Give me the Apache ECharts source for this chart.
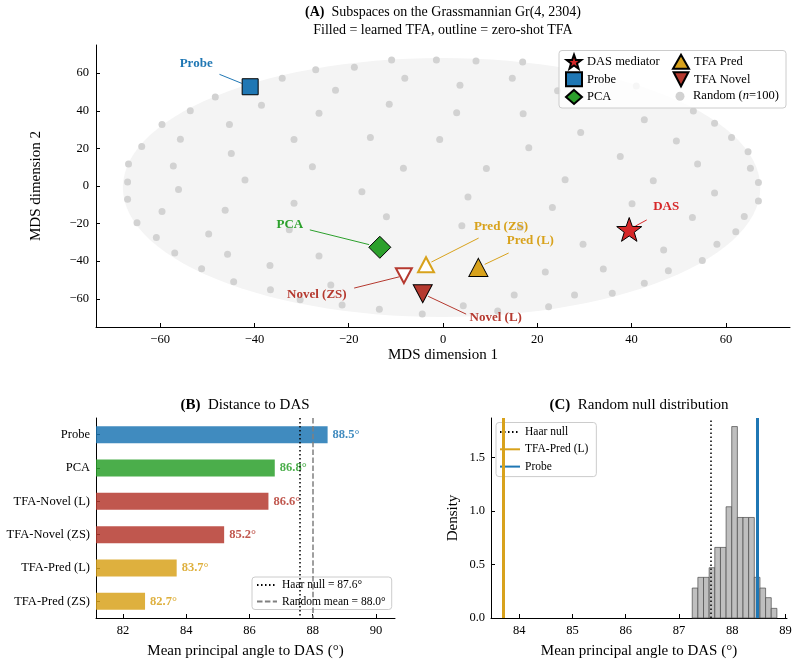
<!DOCTYPE html>
<html>
<head>
<meta charset="utf-8">
<title>Subspaces on the Grassmannian</title>
<script src="https://cdn.jsdelivr.net/npm/echarts@6/dist/echarts.min.js"></script>
<style>
  html, body { margin: 0; padding: 0; background: #fff; }
  #chart { width: 798px; height: 671px; }
</style>
</head>
<body>
<div id="chart"></div>
<script>
// ---------- panel A: MDS map ----------
const dasPoint = [39.5, -23.1];
const probePoint = [-40.9, 52.8];
const pcaPoint = [-13.4, -32.6];
const predLearned = [7.5, -43.3];
const predZeroShot = [-3.6, -41.9];
const novelLearned = [-4.3, -57.3];
const novelZeroShot = [-8.3, -47.7];

const randomX = [-34.1, -27.0, -18.8, -10.9, -1.4, -8.1, -22.8, -48.3, -38.5, -11.4,
  -53.6, -26.3, -59.6, -45.3, -55.7, -31.6, -15.4, -0.7, -63.9, -44.9,
  -66.7, -57.2, -27.7, -8.4, -66.9, -42.0, -56.1, -17.2, -66.9, -31.6,
  -59.6, -46.2, -12.0, -64.9, -32.6, -49.7, -60.8, -56.9, -45.7, -26.3,
  -51.2, -36.7, -44.4, -36.6, -23.8, -30.3, -21.4, -13.5, -4.4, 7.0,
  16.9, 3.6, 14.7, 24.3, 2.9, 17.0, 42.7, 53.1, 57.6, 29.2,
  49.5, 61.2, 18.2, 37.6, 64.7, 9.2, 54.0, 65.2, 25.9, 44.6,
  66.9, 5.3, 40.1, 57.6, 66.9, 23.2, 52.9, 4.0, 16.4, 62.1,
  29.7, 46.8, 55.0, 21.7, 34.0, 47.8, 42.7, 15.1, 27.9, 35.9,
  4.3, 11.6, 22.4, 41.0, 63.9, 58.1];
const randomY = [57.3, 61.9, 63.1, 67.0, 67.0, 57.3, 50.9, 47.4, 43.0, 43.5,
  40.0, 38.7, 32.7, 32.7, 24.9, 24.7, 25.8, 24.7, 21.0, 17.3,
  11.7, 10.6, 10.2, 9.5, 2.1, 3.2, -1.8, -3.0, -7.1, -9.2,
  -13.6, -12.9, -16.3, -19.5, -23.3, -25.5, -27.4, -35.6, -36.3, -37.3,
  -44.0, -42.3, -50.9, -55.2, -52.7, -60.5, -63.3, -65.5, -68.1, 66.5,
  65.9, 53.6, 57.3, 50.6, 39.0, 38.4, 35.2, 39.9, 33.4, 28.4,
  24.0, 25.8, 20.3, 15.7, 18.2, 9.3, 11.7, 9.5, 3.3, 2.8,
  1.8, -5.8, -9.4, -3.7, -8.0, -11.5, -16.8, -21.2, -22.1, -24.4,
  -31.0, -34.0, -39.6, -45.8, -44.2, -45.1, -51.7, -58.0, -58.0, -57.0,
  -63.7, -66.5, -64.2, 53.2, -16.2, -31.0];

// cloud outline: centre x, centre y, radius x, radius y
const cloudEllipse = [-0.3, -0.8, 67.6, 68.9];

// ---------- panel B: distance to DAS ----------
const bCategories = ['Probe', 'PCA', 'TFA-Novel (L)', 'TFA-Novel (ZS)', 'TFA-Pred (L)', 'TFA-Pred (ZS)'];
const bAngles = [88.47, 86.8, 86.6, 85.2, 83.7, 82.7];
const haarNull = 87.6;
const randomMean = 88.0;

// ---------- panel C: random null histogram ----------
const histEdges = [87.25, 87.356, 87.462, 87.568, 87.674, 87.78, 87.886, 87.992,
  88.098, 88.204, 88.31, 88.416, 88.522, 88.628, 88.734, 88.84];
const histDensity = [0.28, 0.38, 0.38, 0.47, 0.66, 0.66, 1.04, 1.79, 0.94, 0.94, 0.94, 0.38, 0.28, 0.19, 0.09];
const tfaPredLearnedAngle = 83.7;
const probeAngle = 88.47;

// colours
const cBlue = '#1f77b4';
const cGreen = '#2ca02c';
const cRed = '#d62728';
const cGold = '#d8a21c';
const cNovel = '#b5392f';
const serif = '"Liberation Serif", "Times New Roman", serif';

const bColors = [cBlue, cGreen, cNovel, cNovel, cGold, cGold];

// annotation placement (px, relative to the marker centre)
const annotations = [
  { point: dasPoint, text: 'DAS', color: cRed, label: [37, -23], from: [17.5, -9.5], gap: 7 },
  { point: probePoint, text: 'Probe', color: cBlue, label: [-54, -23], from: [-30.7, -12.4], gap: 9 },
  { point: pcaPoint, text: 'PCA', color: cGreen, label: [-90, -23], from: [-70, -17.4], gap: 11 },
  { point: predLearned, text: 'Pred (L)', color: cGold, label: [52, -27], from: [30.3, -14.4], gap: 7 },
  { point: predZeroShot, text: 'Pred (ZS)', color: cGold, label: [75, -38], from: [52.6, -26.7], gap: 6 },
  { point: novelLearned, text: 'Novel (L)', color: cNovel, label: [73, 24], from: [43.4, 20.4], gap: 6 },
  { point: novelZeroShot, text: 'Novel (ZS)', color: cNovel, label: [-87, 19], from: [-49.7, 12.4], gap: 5 }
];

const starPath = 'path://M0,-10 L2.35,-3.24 L9.51,-3.09 L3.8,1.24 L5.88,8.09 L0,4 L-5.88,8.09 L-3.8,1.24 L-9.51,-3.09 L-2.35,-3.24 Z';
const downTriangle = 'path://M0,0 L20,0 L10,19 Z';

const chart = echarts.init(document.getElementById('chart'), null, { renderer: 'canvas' });

const axisBase = {
  axisLine: { show: true, onZero: false, lineStyle: { color: '#000', width: 1 } },
  axisTick: { show: true, inside: true, length: 4, lineStyle: { color: '#000' } },
  splitLine: { show: false },
  axisLabel: { color: '#000', fontFamily: serif, fontSize: 12.5 },
  nameTextStyle: { color: '#000', fontFamily: serif, fontSize: 15 }
};
const minus = (v) => String(v).replace('-', '\u2212');

const titleStyle = (size) => ({
  fontFamily: serif, fontSize: size, fontWeight: 'normal', color: '#000', lineHeight: 18,
  rich: { b: { fontFamily: serif, fontSize: size, fontWeight: 'bold', lineHeight: 18 } }
});
const legendText = { fontFamily: serif, fontSize: 12.5, color: '#000' };

const option = {
  backgroundColor: '#fff',
  animation: false,
  textStyle: { fontFamily: serif },
  title: [
    {
      left: 443, top: 3, textAlign: 'center', padding: 0,
      text: '{b|(A)}  Subspaces on the Grassmannian Gr(4, 2304)\nFilled = learned TFA, outline = zero-shot TFA',
      textStyle: titleStyle(14)
    },
    { left: 245, top: 396, textAlign: 'center', padding: 0, text: '{b|(B)}  Distance to DAS', textStyle: titleStyle(15) },
    { left: 639, top: 396, textAlign: 'center', padding: 0, text: '{b|(C)}  Random null distribution', textStyle: titleStyle(15) }
  ],
  grid: [
    { left: 96, top: 45, right: 8, height: 282 },
    { left: 96, top: 418, width: 299, height: 200 },
    { left: 491, top: 418, right: 11, height: 200 }
  ],
  xAxis: [
    Object.assign({}, axisBase, {
      gridIndex: 0, type: 'value', min: -73.6, max: 73.6,
      name: 'MDS dimension 1', nameLocation: 'middle', nameGap: 21,
      axisTick: Object.assign({}, axisBase.axisTick, { customValues: [-60, -40, -20, 0, 20, 40, 60] }),
      axisLabel: Object.assign({}, axisBase.axisLabel, { margin: 6, customValues: [-60, -40, -20, 0, 20, 40, 60], formatter: minus })
    }),
    Object.assign({}, axisBase, {
      gridIndex: 1, type: 'value', min: 81.15, max: 90.6,
      name: 'Mean principal angle to DAS (\u00b0)', nameLocation: 'middle', nameGap: 26,
      axisTick: Object.assign({}, axisBase.axisTick, { customValues: [82, 84, 86, 88, 90] }),
      axisLabel: Object.assign({}, axisBase.axisLabel, { margin: 6, customValues: [82, 84, 86, 88, 90] })
    }),
    Object.assign({}, axisBase, {
      gridIndex: 2, type: 'value', min: 83.47, max: 89.03,
      name: 'Mean principal angle to DAS (\u00b0)', nameLocation: 'middle', nameGap: 26,
      axisTick: Object.assign({}, axisBase.axisTick, { customValues: [84, 85, 86, 87, 88, 89] }),
      axisLabel: Object.assign({}, axisBase.axisLabel, { margin: 6, customValues: [84, 85, 86, 87, 88, 89] })
    })
  ],
  yAxis: [
    Object.assign({}, axisBase, {
      gridIndex: 0, type: 'value', min: -75, max: 75,
      name: 'MDS dimension 2', nameLocation: 'middle', nameGap: 52,
      axisTick: Object.assign({}, axisBase.axisTick, { customValues: [-60, -40, -20, 0, 20, 40, 60] }),
      axisLabel: Object.assign({}, axisBase.axisLabel, { margin: 7, customValues: [-60, -40, -20, 0, 20, 40, 60], formatter: minus })
    }),
    Object.assign({}, axisBase, {
      gridIndex: 1, type: 'category', inverse: true, data: bCategories,
      axisTick: Object.assign({}, axisBase.axisTick, { alignWithLabel: true }),
      axisLabel: Object.assign({}, axisBase.axisLabel, { margin: 6 })
    }),
    Object.assign({}, axisBase, {
      gridIndex: 2, type: 'value', min: 0, max: 1.87,
      name: 'Density', nameLocation: 'middle', nameGap: 30,
      axisTick: Object.assign({}, axisBase.axisTick, { customValues: [0, 0.5, 1, 1.5] }),
      axisLabel: Object.assign({}, axisBase.axisLabel, { margin: 6, customValues: [0, 0.5, 1, 1.5], formatter: (v) => v.toFixed(1) })
    })
  ],
  graphic: [
    {
      type: 'rect', z: 10, shape: { x: 559, y: 50.5, width: 227, height: 57.5, r: 3 },
      style: { fill: 'rgba(255,255,255,0.8)', stroke: '#cccccc', lineWidth: 1 }
    }
  ],
  legend: [
    {
      data: ['DAS mediator', 'Probe', 'PCA'], orient: 'vertical', left: 565, top: 53.7, padding: 0,
      itemWidth: 16, itemHeight: 14, itemGap: 1.6, z: 11, selectedMode: false,
      textStyle: legendText
    },
    {
      data: ['TFA Pred', 'TFA Novel'], orient: 'vertical', left: 672, top: 53.7, padding: 0,
      itemWidth: 16, itemHeight: 14, itemGap: 1.6, z: 11, selectedMode: false,
      textStyle: legendText
    },
    {
      data: ['Random (n=100)'], left: 675.5, top: 89.7, padding: 0, itemWidth: 16, itemHeight: 9, z: 11, selectedMode: false,
      formatter: () => 'Random ({i|n}=100)',
      textStyle: Object.assign({}, legendText, {
        rich: { i: { fontFamily: serif, fontSize: 12.5, fontStyle: 'italic', color: '#000' } }
      })
    },
    {
      data: ['Haar null = 87.6\u00b0', 'Random mean = 88.0\u00b0'], orient: 'vertical', left: 252, top: 577,
      itemWidth: 20, itemHeight: 12, itemGap: 4.5, selectedMode: false,
      itemStyle: { opacity: 0 },
      padding: [2, 6, 2, 4], backgroundColor: 'rgba(255,255,255,0.8)', borderColor: '#cccccc', borderWidth: 1, borderRadius: 3,
      textStyle: { fontFamily: serif, fontSize: 11.5, color: '#000' }
    },
    {
      data: ['Haar null', 'TFA-Pred (L) line', 'Probe line'], orient: 'vertical', left: 496, top: 422.5,
      itemWidth: 20, itemHeight: 11, itemGap: 5.3, selectedMode: false,
      itemStyle: { opacity: 0 },
      padding: [3.5, 8, 4, 3], backgroundColor: 'rgba(255,255,255,0.8)', borderColor: '#cccccc', borderWidth: 1, borderRadius: 3,
      formatter: (n) => n.replace(' line', ''),
      textStyle: { fontFamily: serif, fontSize: 11.5, color: '#000' }
    }
  ],
  series: [
    // ---- A ----
    {
      type: 'custom', name: 'cloud', xAxisIndex: 0, yAxisIndex: 0, z: 1, silent: true,
      data: [cloudEllipse],
      renderItem: function (params, api) {
        const cx = api.value(0), cy = api.value(1), rx = api.value(2), ry = api.value(3);
        const pts = [];
        for (let i = 0; i < 120; i++) {
          const t = (i / 120) * Math.PI * 2;
          pts.push(api.coord([cx + rx * Math.cos(t), cy + ry * Math.sin(t)]));
        }
        return { type: 'polygon', shape: { points: pts }, style: { fill: '#f4f4f4' } };
      }
    },
    {
      type: 'scatter', name: 'Random (n=100)', xAxisIndex: 0, yAxisIndex: 0, z: 2,
      symbol: 'circle', symbolSize: 7,
      itemStyle: { color: '#d2d2d2', opacity: 1 },
      data: randomX.map((x, i) => [x, randomY[i]])
    },
    {
      type: 'custom', name: 'annotations', xAxisIndex: 0, yAxisIndex: 0, z: 2.5, silent: true,
      data: annotations.map((a) => a.point),
      renderItem: function (params, api) {
        const a = annotations[params.dataIndex];
        const p = api.coord([api.value(0), api.value(1)]);
        const len = Math.hypot(a.from[0], a.from[1]);
        const ux = a.from[0] / len, uy = a.from[1] / len;
        return {
          type: 'group',
          children: [
            {
              type: 'line',
              shape: { x1: p[0] + a.from[0], y1: p[1] + a.from[1], x2: p[0] + ux * a.gap, y2: p[1] + uy * a.gap },
              style: { stroke: a.color, lineWidth: 1 }
            },
            {
              type: 'text', x: p[0] + a.label[0], y: p[1] + a.label[1],
              style: { text: a.text, fill: a.color, font: 'bold 13px ' + serif, align: 'center', verticalAlign: 'middle' }
            }
          ]
        };
      }
    },
    {
      type: 'scatter', name: 'DAS mediator', xAxisIndex: 0, yAxisIndex: 0, z: 3,
      symbol: starPath, symbolKeepAspect: true, symbolSize: 25,
      itemStyle: { color: cRed, borderColor: '#000', borderWidth: 1, opacity: 1 },
      data: [dasPoint]
    },
    {
      type: 'scatter', name: 'Probe', xAxisIndex: 0, yAxisIndex: 0, z: 3,
      symbol: 'rect', symbolSize: 16,
      itemStyle: { color: cBlue, borderColor: '#000', borderWidth: 1, opacity: 1 },
      data: [probePoint]
    },
    {
      type: 'scatter', name: 'PCA', xAxisIndex: 0, yAxisIndex: 0, z: 3,
      symbol: 'diamond', symbolSize: 22,
      itemStyle: { color: cGreen, borderColor: '#000', borderWidth: 1, opacity: 1 },
      data: [pcaPoint]
    },
    {
      type: 'scatter', name: 'TFA Pred', xAxisIndex: 0, yAxisIndex: 0, z: 3,
      symbol: 'triangle', symbolSize: [19, 18],
      itemStyle: { color: cGold, borderColor: '#000', borderWidth: 1, opacity: 1 },
      data: [
        { value: predLearned },
        { value: predZeroShot, symbolSize: [16, 15], itemStyle: { color: '#fff', borderColor: cGold, borderWidth: 2 } }
      ]
    },
    {
      type: 'scatter', name: 'TFA Novel', xAxisIndex: 0, yAxisIndex: 0, z: 3,
      symbol: downTriangle, symbolSize: [19, 18],
      itemStyle: { color: cNovel, borderColor: '#000', borderWidth: 1, opacity: 1 },
      data: [
        { value: novelLearned },
        { value: novelZeroShot, symbolSize: [16, 15], itemStyle: { color: '#fff', borderColor: cNovel, borderWidth: 2 } }
      ]
    },
    // ---- B ----
    {
      type: 'bar', name: 'Distance', xAxisIndex: 1, yAxisIndex: 1, barWidth: 17,
      data: bAngles.map((v, i) => ({
        value: v,
        itemStyle: { color: bColors[i], opacity: 0.85 },
        label: { color: bColors[i] }
      })),
      label: {
        show: true, position: 'right', distance: 5,
        fontFamily: serif, fontWeight: 'bold', fontSize: 12.5,
        formatter: (p) => p.value.toFixed(1) + '\u00b0'
      }
    },
    {
      type: 'line', name: 'Haar null = 87.6\u00b0', xAxisIndex: 1, yAxisIndex: 1, data: [],
      symbol: 'none', itemStyle: { color: '#000' }, lineStyle: { color: '#000', width: 1.5, type: [1.5, 2.5] },
      markLine: {
        silent: true, symbol: ['none', 'none'], label: { show: false },
        lineStyle: { color: '#000', width: 1.5, type: [1.5, 2.5] },
        data: [{ xAxis: haarNull }]
      }
    },
    {
      type: 'line', name: 'Random mean = 88.0\u00b0', xAxisIndex: 1, yAxisIndex: 1, data: [],
      symbol: 'none', itemStyle: { color: '#808080' }, lineStyle: { color: '#808080', width: 1.5, type: [5.5, 2.4] },
      markLine: {
        silent: true, symbol: ['none', 'none'], label: { show: false },
        lineStyle: { color: '#808080', width: 1.5, type: [5.5, 2.4] },
        data: [{ xAxis: randomMean }]
      }
    },
    // ---- C ----
    {
      type: 'custom', name: 'Random null', xAxisIndex: 2, yAxisIndex: 2, silent: true,
      encode: { x: [0, 1], y: 2 },
      data: histDensity.map((d, i) => [histEdges[i], histEdges[i + 1], d]),
      renderItem: function (params, api) {
        const p0 = api.coord([api.value(0), api.value(2)]);
        const p1 = api.coord([api.value(1), 0]);
        return {
          type: 'rect',
          shape: { x: p0[0], y: p0[1], width: p1[0] - p0[0], height: p1[1] - p0[1] },
          style: { fill: '#bfbfbf', stroke: '#4a4a4a', lineWidth: 0.7 }
        };
      }
    },
    {
      type: 'line', name: 'Haar null', xAxisIndex: 2, yAxisIndex: 2, data: [], z: 3,
      symbol: 'none', itemStyle: { color: '#000' }, lineStyle: { color: '#000', width: 1.5, type: [1.5, 2.5] },
      markLine: {
        silent: true, symbol: ['none', 'none'], label: { show: false },
        lineStyle: { color: '#000', width: 1.5, type: [1.5, 2.5] },
        data: [{ xAxis: haarNull }]
      }
    },
    {
      type: 'line', name: 'TFA-Pred (L) line', xAxisIndex: 2, yAxisIndex: 2, data: [], z: 3,
      symbol: 'none', itemStyle: { color: cGold }, lineStyle: { color: cGold, width: 3, type: 'solid' },
      markLine: {
        silent: true, symbol: ['none', 'none'], label: { show: false },
        lineStyle: { color: cGold, width: 3, type: 'solid' },
        data: [{ xAxis: tfaPredLearnedAngle }]
      }
    },
    {
      type: 'line', name: 'Probe line', xAxisIndex: 2, yAxisIndex: 2, data: [], z: 3,
      symbol: 'none', itemStyle: { color: cBlue }, lineStyle: { color: cBlue, width: 3, type: 'solid' },
      markLine: {
        silent: true, symbol: ['none', 'none'], label: { show: false },
        lineStyle: { color: cBlue, width: 3, type: 'solid' },
        data: [{ xAxis: probeAngle }]
      }
    }
  ]
};

chart.setOption(option);
</script>
</body>
</html>
